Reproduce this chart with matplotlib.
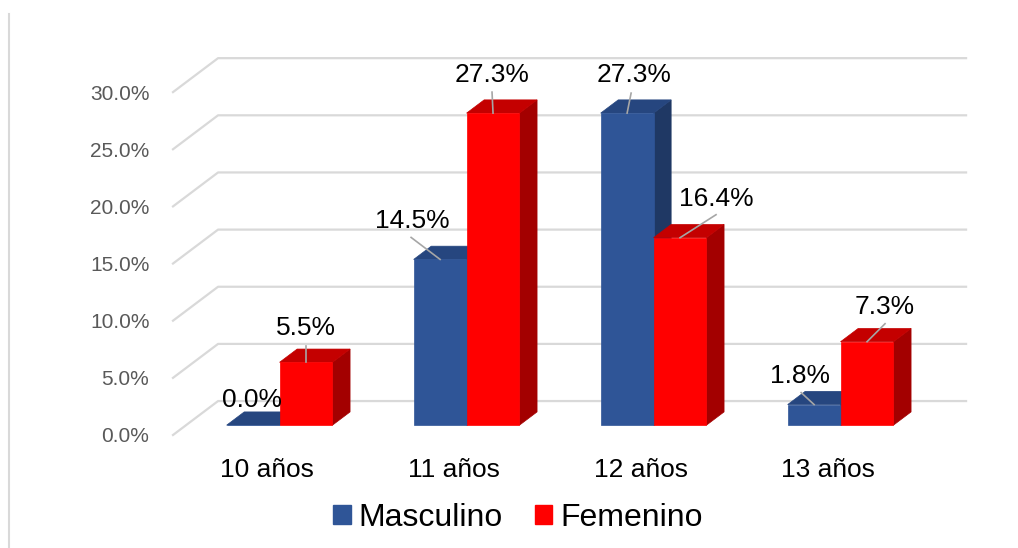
import matplotlib.pyplot as plt
from matplotlib.patches import Polygon, Patch
from matplotlib.lines import Line2D

plt.rcParams['font.family'] = ['Liberation Sans', 'DejaVu Sans']

categorias = ['10 años', '11 años', '12 años', '13 años']
masculino = [0.0, 14.5, 27.3, 1.8]
femenino = [5.5, 27.3, 16.4, 7.3]
yticks = [0, 5, 10, 15, 20, 25, 30]

# oblique "3D" look: full depth shifts right by DX (x units) and up by DY (% units)
DX, DY = 0.241, 2.97
zf, zb = 0.29, 0.68          # front / back depth of the bars
w = 0.283                    # bar width (category spacing = 1)

azul = ('#2F5597', '#26467F', '#1F3864')    # front, top, side
rojo = ('#FF0000', '#C40000', '#A30000')
grid = '#D9D9D9'

# label offsets from the bar's front-top centre, (label centre, leader start), in px
lab_m = [((-1, -25), None), ((-28, -38), (-29, -22)), ((7, -38), (4, -20)), ((-14, -29), (-13, -12))]
lab_f = [((0, -34), (0, -16)), ((-1, -38), (-1, -21)), ((36, -39), (36, -23)), ((18, -35), (18, -18))]

fig = plt.figure(figsize=(10.18, 5.48), dpi=100)
L, R, B, T = 173, 921, 435, 435 - 30 * 11.43
ax = fig.add_axes([L / 1018, 1 - B / 548, (R - L) / 1018, (B - T) / 548])
ax.set_xlim(0, 4)
ax.set_ylim(0, 30)
pxx = 4 / (R - L)
pxy = 30 / (B - T)

# walls: diagonal on the left side, horizontal line on the back wall
for y in yticks:
    ax.add_line(Line2D([0, DX, 4 + DX], [y, y + DY, y + DY], color=grid, lw=1.6,
                       clip_on=False, zorder=1))


def barra(xl, xr, v, col):
    front = [(xl + zf * DX, zf * DY), (xr + zf * DX, zf * DY),
             (xr + zf * DX, v + zf * DY), (xl + zf * DX, v + zf * DY)]
    top = [(xl + zf * DX, v + zf * DY), (xr + zf * DX, v + zf * DY),
           (xr + zb * DX, v + zb * DY), (xl + zb * DX, v + zb * DY)]
    side = [(xr + zf * DX, zf * DY), (xr + zb * DX, zb * DY),
            (xr + zb * DX, v + zb * DY), (xr + zf * DX, v + zf * DY)]
    for pts, c in ((side, col[2]), (top, col[1]), (front, col[0])):
        ax.add_patch(Polygon(pts, closed=True, facecolor=c, edgecolor=c, lw=0.5,
                             clip_on=False, zorder=3))


def etiqueta(xc, v, off):
    (lx, ly), st = off
    x0, y0 = xc + zf * DX, v + zf * DY
    if st is not None:
        ax.add_line(Line2D([x0 + st[0] * pxx, x0], [y0 - st[1] * pxy, y0],
                           color='#A6A6A6', lw=1.2, clip_on=False, zorder=4))
    ax.text(x0 + lx * pxx, y0 - ly * pxy, f'{v:.1f}%', ha='center', va='center',
            fontsize=19, color='black', zorder=5)


for i in range(len(categorias)):
    c = 0.5 + i
    barra(c - w, c, masculino[i], azul)
    barra(c, c + w, femenino[i], rojo)
for i in range(len(categorias)):
    c = 0.5 + i
    etiqueta(c - w / 2, masculino[i], lab_m[i])
    etiqueta(c + w / 2, femenino[i], lab_f[i])

ax.set_yticks(yticks)
ax.set_yticklabels([f'{t:.1f}%' for t in yticks], fontsize=15, color='#595959')
ax.set_xticks([0.5 + i for i in range(len(categorias))])
ax.set_xticklabels(categorias, fontsize=19, color='black')
ax.tick_params(axis='y', length=0, pad=17)
ax.tick_params(axis='x', length=0, pad=16.5)
for s in ax.spines.values():
    s.set_visible(False)
ax.patch.set_visible(False)

fig.legend(handles=[Patch(color=azul[0], label='Masculino'),
                    Patch(color=rojo[0], label='Femenino')],
           loc='center', bbox_to_anchor=(518 / 1018, 1 - 518 / 548), ncol=2,
           frameon=False, fontsize=23, handlelength=0.55, handleheight=0.55,
           handletextpad=0.25, columnspacing=1.0)

fig.add_artist(Line2D([9 / 1018, 9 / 1018], [0, 1 - 14 / 548], color=grid, lw=1.5))

fig.savefig('out.png', dpi=100)
